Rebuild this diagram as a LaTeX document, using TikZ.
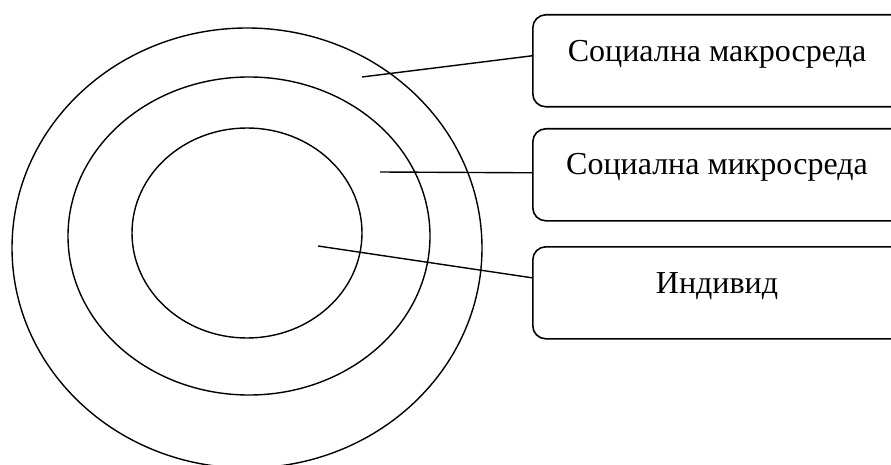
\documentclass[tikz,border=0pt]{standalone}
\usepackage{fontspec}
\setmainfont{Liberation Serif}
\begin{document}
\begin{tikzpicture}[x=1pt,y=-1pt,
  ring/.style={draw=black,line width=1.4pt},
  labelbox/.style={draw=black,line width=1.6pt,rounded corners=13pt,minimum width=372pt,minimum height=92pt,anchor=north west,inner sep=0pt},
  labeltext/.style={anchor=base,inner sep=0pt,font=\fontsize{32}{37}\selectfont},
  leader/.style={draw=black,line width=1.4pt}]
\useasboundingbox (0,0) rectangle (891,465);
\clip (0,0) rectangle (891,465);
\fill[white] (0,0) rectangle (891,465);
\draw[ring] (247,248) ellipse [x radius=235pt, y radius=220pt];
\draw[ring] (249,236) ellipse [x radius=181pt, y radius=159pt];
\draw[ring] (247,233) ellipse [x radius=115pt, y radius=105pt];
\node[labelbox] (box1) at (532,14) {};
\node[labelbox] (box2) at (532,128) {};
\node[labelbox] (box3) at (532,246) {};
\node[labeltext] (t1) at (717,62) {Социална макросреда};
\node[labeltext] (t2) at (717,175) {Социална микросреда};
\node[labeltext] (t3) at (717,293) {Индивид};
\coordinate (p1) at (362,77);
\coordinate (p2) at (380,172);
\coordinate (p3) at (318,246);
\draw[leader] (p1) -- ([yshift=5pt]box1.west);
\draw[leader] (p2) -- ([yshift=2pt]box2.west);
\draw[leader] (p3) -- ([yshift=15pt]box3.west);
\end{tikzpicture}
\end{document}
